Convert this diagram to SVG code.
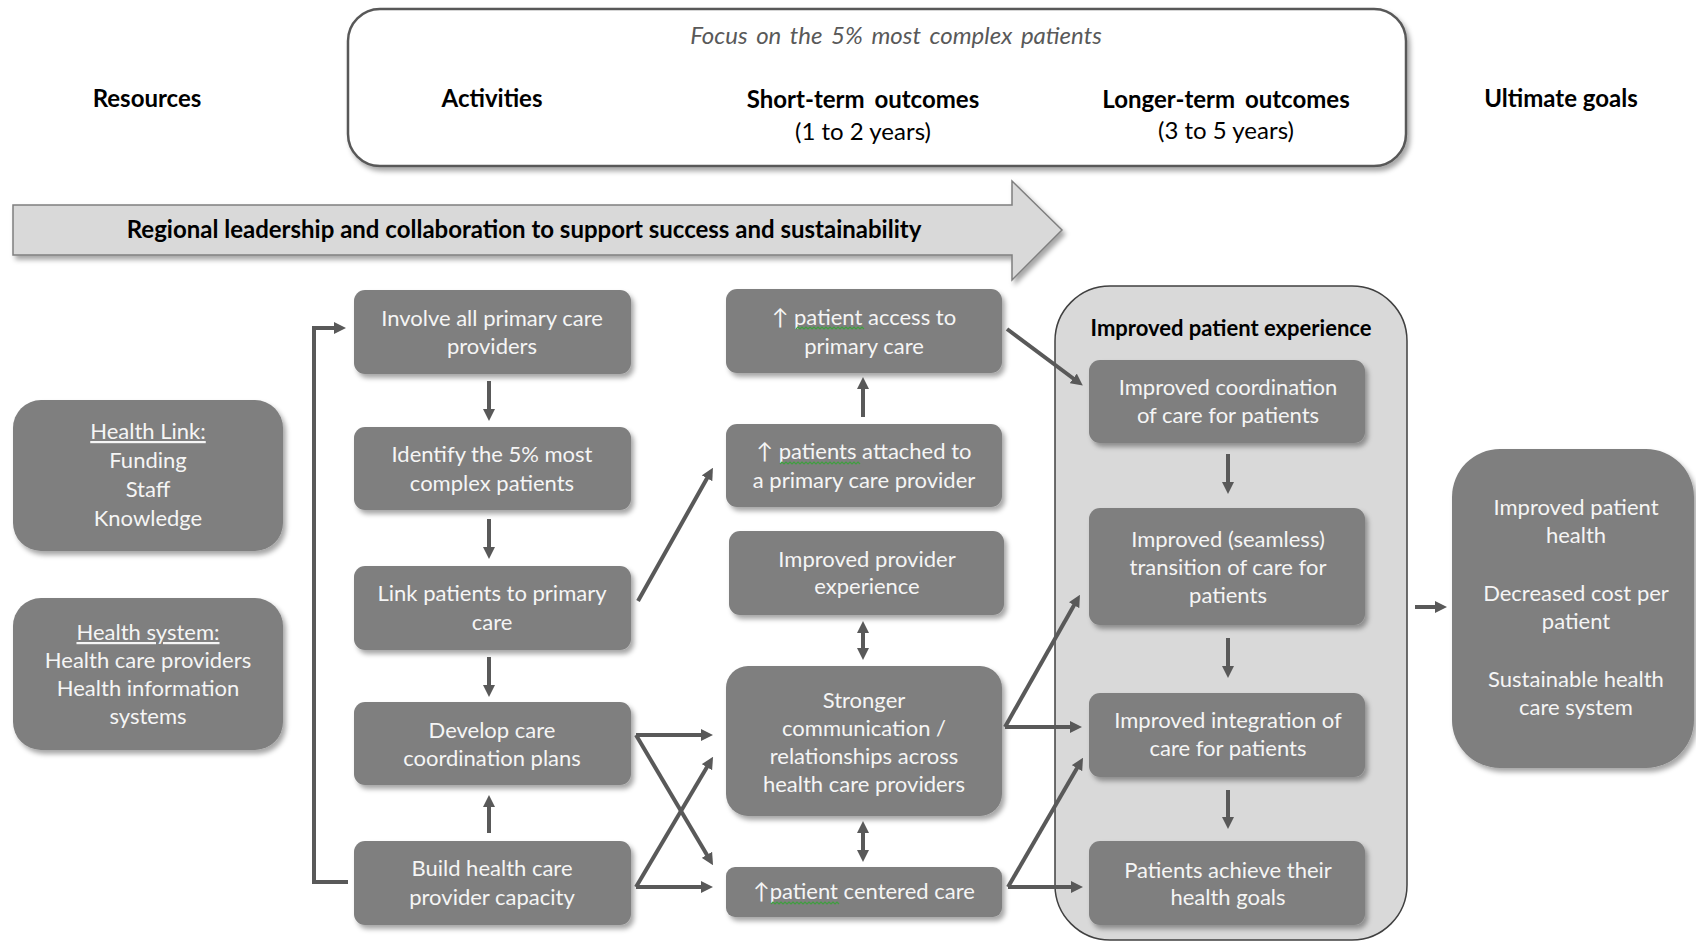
<svg xmlns="http://www.w3.org/2000/svg" width="1696" height="942" viewBox="0 0 1696 942">
<defs>
<filter id="sh" x="-10%" y="-10%" width="125%" height="130%">
<feDropShadow dx="3" dy="4" stdDeviation="2.5" flood-color="#000" flood-opacity="0.35"/>
</filter>
<marker id="ah" viewBox="0 0 10 10" refX="5" refY="5" markerWidth="3" markerHeight="3" orient="auto-start-reverse" markerUnits="strokeWidth">
<path d="M0,0 L10,5 L0,10 z" fill="#595959"/>
</marker>
<style>
.hd{font-family:Lato,"Liberation Sans",sans-serif;font-weight:bold;font-size:24px;fill:#000;text-anchor:middle}
.sub{font-family:Lato,"Liberation Sans",sans-serif;font-size:24px;fill:#000;text-anchor:middle}
.node rect{fill:#7f7f7f;filter:url(#sh)}
.node text{font-family:Lato,"Liberation Sans",sans-serif;font-size:22px;fill:#f5f5f5;text-anchor:middle}
.conn path{fill:none;stroke:#595959;stroke-width:4;marker-end:url(#ah)}
.sq{fill:none;stroke:#3f9f3f;stroke-width:1.2}
</style>
</defs>

<g id="header">
<rect x="348" y="9" width="1058" height="157" rx="32" fill="#fff" stroke="#595959" stroke-width="2.5" filter="url(#sh)"/>
<text x="896" y="44" font-family="Lato,'Liberation Sans',sans-serif" font-style="italic" font-size="24" word-spacing="3" fill="#595959" text-anchor="middle">Focus on the 5% most complex patients</text>
<text class="hd" x="147" y="107">Resources</text>
<text class="hd" x="492" y="107">Activities</text>
<text class="hd" x="863" y="108" word-spacing="4">Short-term outcomes</text>
<text class="sub" x="863" y="140">(1 to 2 years)</text>
<text class="hd" x="1226" y="108" word-spacing="4">Longer-term outcomes</text>
<text class="sub" x="1226" y="139">(3 to 5 years)</text>
<text class="hd" x="1561" y="107">Ultimate goals</text>
</g>

<g id="leadership">
<polygon points="13,205 1012,205 1012,181 1062,230 1012,280 1012,255 13,255" fill="#d9d9d9" stroke="#7f7f7f" stroke-width="1.5" filter="url(#sh)"/>
<text class="hd" x="524" y="238">Regional leadership and collaboration to support success and sustainability</text>
</g>

<g id="container">
<rect x="1055" y="286" width="352" height="654" rx="55" fill="#d9d9d9" stroke="#404040" stroke-width="1.5"/>
<text x="1231" y="336" font-family="Lato,'Liberation Sans',sans-serif" font-weight="bold" font-size="22" fill="#000" text-anchor="middle">Improved patient experience</text>
</g>

<g id="health-link" class="node">
<rect x="13" y="400" width="270" height="151" rx="28"/>
<text x="148" y="439" text-decoration="underline">Health Link:</text>
<text x="148" y="468">Funding</text>
<text x="148" y="497">Staff</text>
<text x="148" y="526">Knowledge</text>
</g>
<g id="health-system" class="node">
<rect x="13" y="598" width="270" height="152" rx="28"/>
<text x="148" y="640" text-decoration="underline">Health system:</text>
<text x="148" y="668">Health care providers</text>
<text x="148" y="696">Health information</text>
<text x="148" y="724">systems</text>
</g>

<g id="involve" class="node">
<rect x="354" y="290" width="277" height="84" rx="11"/>
<text x="492" y="326">Involve all primary care</text>
<text x="492" y="354">providers</text>
</g>
<g id="identify" class="node">
<rect x="354" y="427" width="277" height="83" rx="11"/>
<text x="492" y="462">Identify the 5% most</text>
<text x="492" y="491">complex patients</text>
</g>
<g id="link" class="node">
<rect x="354" y="566" width="277" height="84" rx="11"/>
<text x="492" y="601">Link patients to primary</text>
<text x="492" y="630">care</text>
</g>
<g id="develop" class="node">
<rect x="354" y="702" width="277" height="83" rx="11"/>
<text x="492" y="738">Develop care</text>
<text x="492" y="766">coordination plans</text>
</g>
<g id="build" class="node">
<rect x="354" y="841" width="277" height="84" rx="11"/>
<text x="492" y="876">Build health care</text>
<text x="492" y="905">provider capacity</text>
</g>

<g id="access" class="node">
<rect x="726" y="289" width="276" height="84" rx="11"/>
<text x="864" y="325">↑ patient access to</text>
<text x="864" y="354">primary care</text>
<path class="sq" d="M796,329 l2,-2 l2,2 l2,-2 l2,2 l2,-2 l2,2 l2,-2 l2,2 l2,-2 l2,2 l2,-2 l2,2 l2,-2 l2,2 l2,-2 l2,2 l2,-2 l2,2 l2,-2 l2,2 l2,-2 l2,2 l2,-2 l2,2 l2,-2 l2,2 l2,-2 l2,2 l2,-2 l2,2 l2,-2 l2,2 l2,-2 l2,2"/>
</g>
<g id="attached" class="node">
<rect x="726" y="424" width="276" height="83" rx="11"/>
<text x="864" y="459">↑ patients attached to</text>
<text x="864" y="488">a primary care provider</text>
<path class="sq" d="M780,464 l2,-2 l2,2 l2,-2 l2,2 l2,-2 l2,2 l2,-2 l2,2 l2,-2 l2,2 l2,-2 l2,2 l2,-2 l2,2 l2,-2 l2,2 l2,-2 l2,2 l2,-2 l2,2 l2,-2 l2,2 l2,-2 l2,2 l2,-2 l2,2 l2,-2 l2,2 l2,-2 l2,2 l2,-2 l2,2 l2,-2 l2,2 l2,-2 l2,2 l2,-2 l2,2 l2,-2 l2,2"/>
</g>
<g id="provider" class="node">
<rect x="729" y="531" width="275" height="84" rx="11"/>
<text x="867" y="567">Improved provider</text>
<text x="867" y="594">experience</text>
</g>
<g id="stronger" class="node">
<rect x="726" y="666" width="276" height="150" rx="22"/>
<text x="864" y="708">Stronger</text>
<text x="864" y="736">communication /</text>
<text x="864" y="764">relationships across</text>
<text x="864" y="792">health care providers</text>
</g>
<g id="centered" class="node">
<rect x="726" y="867" width="276" height="50" rx="9"/>
<text x="864" y="899">↑patient centered care</text>
<path class="sq" d="M771,904 l2,-2 l2,2 l2,-2 l2,2 l2,-2 l2,2 l2,-2 l2,2 l2,-2 l2,2 l2,-2 l2,2 l2,-2 l2,2 l2,-2 l2,2 l2,-2 l2,2 l2,-2 l2,2 l2,-2 l2,2 l2,-2 l2,2 l2,-2 l2,2 l2,-2 l2,2 l2,-2 l2,2 l2,-2 l2,2 l2,-2 l2,2"/>
</g>

<g id="coordination" class="node">
<rect x="1089" y="360" width="276" height="83" rx="11"/>
<text x="1228" y="395">Improved coordination</text>
<text x="1228" y="423">of care for patients</text>
</g>
<g id="seamless" class="node">
<rect x="1089" y="508" width="276" height="117" rx="11"/>
<text x="1228" y="547">Improved (seamless)</text>
<text x="1228" y="575">transition of care for</text>
<text x="1228" y="603">patients</text>
</g>
<g id="integration" class="node">
<rect x="1089" y="693" width="276" height="84" rx="11"/>
<text x="1228" y="728">Improved integration of</text>
<text x="1228" y="756">care for patients</text>
</g>
<g id="achieve" class="node">
<rect x="1089" y="841" width="276" height="84" rx="11"/>
<text x="1228" y="878">Patients achieve their</text>
<text x="1228" y="905">health goals</text>
</g>

<g id="ultimate" class="node">
<rect x="1452" y="449" width="242" height="319" rx="48"/>
<text x="1576" y="515">Improved patient</text>
<text x="1576" y="543">health</text>
<text x="1576" y="601">Decreased cost per</text>
<text x="1576" y="629">patient</text>
<text x="1576" y="687">Sustainable health</text>
<text x="1576" y="715">care system</text>
</g>

<g id="connectors" class="conn">
<path d="M489,381 V415"/>
<path d="M489,519 V553"/>
<path d="M489,657 V691"/>
<path d="M489,833 V801"/>
<path d="M348,882 H314 V328 H340"/>
<path d="M638,601 L710,473"/>
<path d="M1007,329 L1078,382"/>
<path d="M863,417 V383"/>
<path d="M863,627 V654" marker-start="url(#ah)"/>
<path d="M863,827 V856" marker-start="url(#ah)"/>
<path d="M636,735 H707"/>
<path d="M636,735 L710,860"/>
<path d="M636,887 L710,762"/>
<path d="M636,887 H707"/>
<path d="M1005,727 H1076"/>
<path d="M1005,727 L1077,600"/>
<path d="M1008,887 H1077"/>
<path d="M1008,887 L1080,763"/>
<path d="M1228,454 V488"/>
<path d="M1228,638 V672"/>
<path d="M1228,790 V823"/>
<path d="M1415,607 H1441"/>
</g>
</svg>
